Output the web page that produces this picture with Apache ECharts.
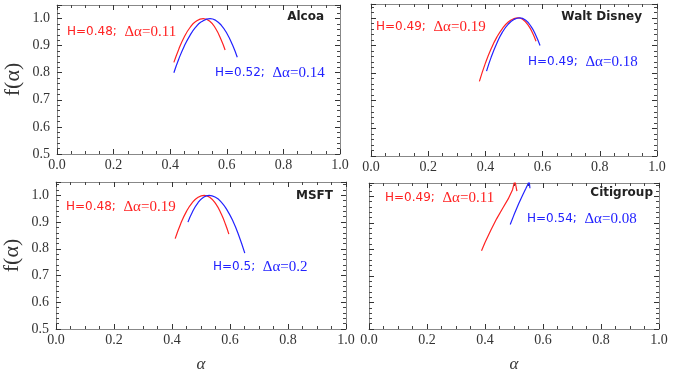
<!DOCTYPE html>
<html>
<head>
<meta charset="utf-8">
<script src="https://cdn.jsdelivr.net/npm/echarts@6/dist/echarts.min.js"></script>
<style>html,body{margin:0;padding:0;background:#fff;}#c{width:681px;height:374px;}</style>
</head>
<body>
<div id="c"></div>
<script>
// ---- data (alpha, f(alpha)) ----
const alcoaRed = [[0.413,0.838],[0.43,0.886],[0.45,0.933],[0.47,0.967],[0.49,0.989],[0.517,1.0],[0.54,0.99],[0.56,0.964],[0.58,0.922],[0.594,0.884]];
const alcoaBlue = [[0.413,0.80],[0.43,0.85],[0.45,0.899],[0.47,0.938],[0.49,0.968],[0.51,0.988],[0.541,1.0],[0.56,0.994],[0.58,0.976],[0.60,0.946],[0.62,0.903],[0.637,0.857]];
const disneyRed = [[0.379,0.770],[0.40,0.836],[0.42,0.888],[0.44,0.930],[0.46,0.962],[0.48,0.985],[0.50,0.997],[0.515,1.0],[0.53,0.995],[0.55,0.973],[0.565,0.945],[0.577,0.915]];
const disneyBlue = [[0.404,0.807],[0.42,0.857],[0.44,0.908],[0.46,0.949],[0.48,0.977],[0.50,0.994],[0.52,1.0],[0.54,0.992],[0.56,0.968],[0.575,0.94],[0.591,0.90]];
const msftRed = [[0.411,0.838],[0.43,0.894],[0.45,0.940],[0.47,0.973],[0.49,0.993],[0.511,1.0],[0.53,0.993],[0.55,0.970],[0.57,0.930],[0.585,0.89],[0.596,0.855]];
const msftBlue = [[0.455,0.90],[0.47,0.937],[0.49,0.973],[0.51,0.994],[0.528,1.0],[0.55,0.993],[0.57,0.975],[0.59,0.945],[0.61,0.904],[0.63,0.851],[0.651,0.784]];
const citiRed = [[0.388,0.795],[0.40,0.826],[0.42,0.872],[0.44,0.915],[0.46,0.953],[0.48,0.990],[0.495,1.025],[0.503,1.06],[0.507,1.06],[0.51,1.019]];
const citiBlue = [[0.487,0.894],[0.50,0.930],[0.516,0.972],[0.53,1.005],[0.540,1.027],[0.548,1.045],[0.552,1.06],[0.555,1.03]];

const panelTitles = ['Alcoa', 'Walt Disney', 'MSFT', 'Citigroup'];
const redH = ['H=0.48;', 'H=0.49;', 'H=0.48;', 'H=0.49;'];
const redDA = ['Δα=0.11', 'Δα=0.19', 'Δα=0.19', 'Δα=0.11'];
const blueH = ['H=0.52;', 'H=0.49;', 'H=0.5;', 'H=0.54;'];
const blueDA = ['Δα=0.14', 'Δα=0.18', 'Δα=0.2', 'Δα=0.08'];
const xTickLabels = ['0.0','0.2','0.4','0.6','0.8','1.0'];
const yTickLabels = ['0.5','0.6','0.7','0.8','0.9','1.0'];

const RED = '#ff2222';
const BLUE = '#2222ff';

const grids = [
  {left: 57, top: 5, width: 283, height: 149},
  {left: 371, top: 4, width: 286, height: 152},
  {left: 53, top: 182, width: 293, height: 155},
  {left: 369, top: 183, width: 290, height: 154}
];

const redSeries = [alcoaRed, disneyRed, msftRed, citiRed];
const blueSeries = [alcoaBlue, disneyBlue, msftBlue, citiBlue];

function frameLine() { return {show: true, onZero: false, lineStyle: {color: '#888', width: 1}}; }
function tickStyle() { return {show: true, inside: true, length: 5, lineStyle: {color: '#333', width: 1}}; }
function minorStyle(n) { return {show: true, splitNumber: n, length: 3, lineStyle: {color: '#444', width: 1}}; }

function xFmt(v) {
  const k = Math.round(v * 5);
  if (Math.abs(v * 5 - k) > 1e-6) return '';
  return xTickLabels[k] || '';
}
function yFmt(v) {
  const k = Math.round((v - 0.5) * 10);
  if (Math.abs((v - 0.5) * 10 - k) > 1e-6) return '';
  return yTickLabels[k] || '';
}

const xAxes = [], yAxes = [], series = [];
grids.forEach((g, i) => {
  const isBottom = i >= 2;
  const isLeft = i % 2 === 0;
  xAxes.push({
    type: 'value', gridIndex: i, position: 'bottom', min: 0, max: 1, interval: 0.2,
    axisLine: frameLine(), axisTick: tickStyle(), minorTick: minorStyle(4), splitLine: {show: false},
    axisLabel: {show: true, margin: 4, formatter: xFmt, fontFamily: 'Liberation Serif', fontSize: 14, color: '#333'},
    name: isBottom ? 'α' : '', nameLocation: 'middle', nameGap: 27,
    nameTextStyle: {fontFamily: 'Liberation Serif', fontStyle: 'italic', fontSize: 17, color: '#333'}
  });
  xAxes.push({
    type: 'value', gridIndex: i, position: 'top', min: 0, max: 1, interval: 0.2,
    axisLine: frameLine(), axisTick: tickStyle(), minorTick: minorStyle(4), splitLine: {show: false},
    axisLabel: {show: false}
  });
  yAxes.push({
    type: 'value', gridIndex: i, position: 'left', min: 0.5, max: 1.05, interval: 0.1,
    axisLine: frameLine(), axisTick: tickStyle(), minorTick: minorStyle(5), splitLine: {show: false},
    axisLabel: {show: isLeft, margin: 7, formatter: yFmt, fontFamily: 'Liberation Serif', fontSize: 14, color: '#333'},
    name: isLeft ? 'f(α)' : '', nameLocation: 'middle', nameGap: 33, nameRotate: 90,
    nameTextStyle: {fontFamily: 'Liberation Serif', fontSize: 22, color: '#333'}
  });
  yAxes.push({
    type: 'value', gridIndex: i, position: 'right', min: 0.5, max: 1.05, interval: 0.1,
    axisLine: frameLine(), axisTick: tickStyle(), minorTick: minorStyle(5), splitLine: {show: false},
    axisLabel: {show: false}
  });
  const smooth = i === 3 ? false : true;
  series.push({
    type: 'line', xAxisIndex: 2 * i, yAxisIndex: 2 * i, data: redSeries[i], showSymbol: false,
    smooth: smooth, clip: true, lineStyle: {color: RED, width: 1.2}, itemStyle: {color: RED}, silent: true
  });
  series.push({
    type: 'line', xAxisIndex: 2 * i, yAxisIndex: 2 * i, data: blueSeries[i], showSymbol: false,
    smooth: smooth, clip: true, lineStyle: {color: BLUE, width: 1.2}, itemStyle: {color: BLUE}, silent: true
  });
});

// annotation placement (pixels)
const titlePos = [[324, 17], [642, 17], [333, 196], [653, 193]];
const redPos = [[67, 32], [376, 27], [66, 207], [385, 198]];
const bluePos = [[215, 73], [528, 62], [213, 267], [527, 219]];

function annot(pos, h, da, color) {
  return {
    type: 'text', x: pos[0], y: pos[1], silent: true,
    style: {
      text: '{h|' + h + '}{s|  }{d|' + da + '}',
      verticalAlign: 'middle', align: 'left',
      rich: {
        h: {fontFamily: 'DejaVu Sans', fontSize: 12, fill: color, color: color},
        s: {fontFamily: 'DejaVu Sans', fontSize: 12},
        d: {fontFamily: 'Liberation Serif', fontSize: 15, fill: color, color: color}
      }
    }
  };
}

const graphic = [];
for (let i = 0; i < 4; i++) {
  graphic.push({
    type: 'text', x: titlePos[i][0], y: titlePos[i][1], silent: true,
    style: {text: panelTitles[i], fontFamily: 'DejaVu Sans', fontWeight: 'bold', fontSize: 12,
      fill: '#222', align: 'right', verticalAlign: 'middle'}
  });
  graphic.push(annot(redPos[i], redH[i], redDA[i], RED));
  graphic.push(annot(bluePos[i], blueH[i], blueDA[i], BLUE));
}

const chart = echarts.init(document.getElementById('c'), null, {renderer: 'canvas'});
chart.setOption({
  animation: false,
  backgroundColor: '#fff',
  grid: grids,
  xAxis: xAxes,
  yAxis: yAxes,
  series: series,
  graphic: graphic
});
</script>
</body>
</html>
